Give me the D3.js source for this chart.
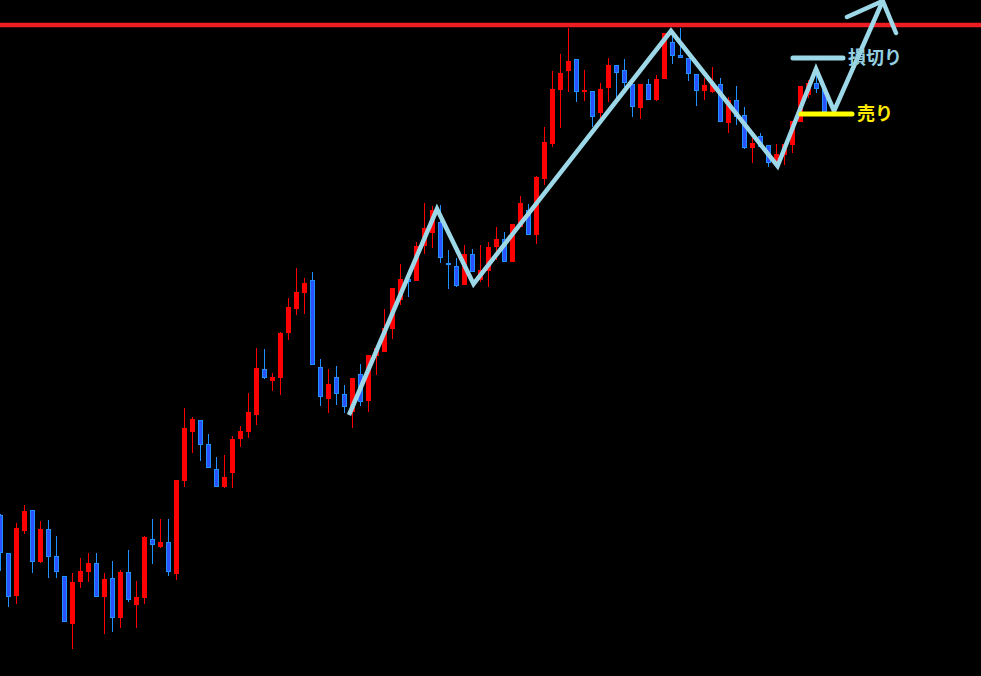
<!DOCTYPE html>
<html>
  <head>
    <meta charset="utf-8">
    <style>
      body { margin: 0; background: #000; overflow: hidden; }
      svg { display: block; }
    </style>
    <script type="text/javascript" src="https://d3js.org/d3.v7.min.js"></script>
  </head>
  <body>
    <svg></svg>
    <script>
    // candle prices (open, high, low, close), one entry per bar, oldest first
    var opens  = [161,123, 80,145,166,114,147,120,100, 52, 94,104,113, 79, 98, 58,104, 71, 78,137,
                  129,134,102,195,244,256,232,207,189,203,237,244,261,307,295,298,343,367,383,396,
                  309,277,299,282,264,302,275,320,324,347,376,397,395,430,443,454,413,410,391,422,
                  396,405,429,437,414,449,466,441,497,532,586,605,617,584,585,563,588,611,606,592,
                  568,592,576,597,634,621,618,602,585,584,592,553,576,561,528,540,531,514,521,531,
                  554,581,593,587];
    var highs  = [162,123,153,171,166,155,156,140,100,103,118,123,123,103,115,106,126, 95,140,157,
                  157,157,196,268,259,256,242,219,221,240,250,283,328,327,303,344,378,408,398,404,
                  317,307,310,291,298,312,321,330,367,388,412,397,434,473,470,471,426,418,431,427,
                  431,434,449,444,452,480,472,500,549,605,622,648,617,606,585,593,618,611,617,592,
                  592,597,601,643,646,648,618,602,598,609,598,579,590,569,538,543,531,532,532,555,
                  590,596,606,587];
    var lows   = [105, 69, 72,142,103,113, 98, 98, 54, 27, 88, 94, 79, 42, 44, 48, 74, 48, 72,112,
                  128,100, 96,189,223,215,208,189,188,188,229,238,251,297,285,281,336,361,362,311,
                  270,263,271,263,248,270,264,301,324,337,371,379,395,422,428,413,387,389,391,404,
                  394,389,416,414,414,449,441,432,491,529,548,584,574,575,549,558,574,576,589,559,
                  557,576,575,597,612,618,595,570,576,583,554,543,551,527,513,529,509,509,511,523,
                  554,578,583,564];
    var closes = [123, 79,148,165,114,147,119,104, 54, 94,105,113, 79, 97, 58,104, 76, 79,139,131,
                  134,104,196,248,257,231,208,189,199,237,245,264,308,298,299,343,369,384,393,311,
                  279,292,282,269,298,274,321,328,348,388,397,394,430,448,466,418,411,390,422,404,
                  406,429,437,414,452,473,441,499,534,587,603,615,584,586,559,587,611,603,593,569,
                  592,576,597,643,620,618,602,585,591,592,554,576,559,528,533,529,513,522,532,555,
                  590,593,587,564];

    // drawn annotations: zigzag (bar index, price), arrow wings, levels
    var zigIdx   = [43.56, 54.56, 59.13, 83.81, 97.13, 101.94, 104.19, 110.28];
    var zigPrice = [261, 467, 392, 645, 510, 607, 565, 675];
    var wingIdx   = [105.81, 110.28, 111.94];
    var wingPrice = [659, 675, 643];
    var resistance = 651;
    var stopLoss = {from: 99.06, to: 105.31, price: 618, label: "損切り"};
    var sellLine = {from: 100.06, to: 106.44, price: 562, label: "売り"};

    var width = 981;
    var height = 676;

    var svg = d3.select("svg")
        .attr("width", width)
        .attr("height", height)
        .style("background", "#000");

    var x = d3.scaleLinear().domain([0, 122]).range([0.5, 976.5]);
    var y = d3.scaleLinear().domain([0, 676]).range([676, 0]);

    var bars = opens.map(function(o, i) {
        return {i: i, o: o, h: highs[i], l: lows[i], c: closes[i], up: closes[i] >= o};
    });

    var red = "#ff0000";
    var blueEdge = "#1e90ff";
    var blueFill = "#2a52ff";

    // wicks
    svg.append("g").selectAll("line")
        .data(bars)
      .enter().append("line")
        .attr("x1", function(d) { return x(d.i); })
        .attr("x2", function(d) { return x(d.i); })
        .attr("y1", function(d) { return y(d.h); })
        .attr("y2", function(d) { return y(d.l); })
        .attr("stroke", function(d) { return d.up ? red : blueEdge; })
        .attr("stroke-width", 1);

    // red bodies
    svg.append("g").selectAll("rect")
        .data(bars.filter(function(d) { return d.up; }))
      .enter().append("rect")
        .attr("x", function(d) { return x(d.i) - 2.5; })
        .attr("width", 5)
        .attr("y", function(d) { return y(Math.max(d.o, d.c)); })
        .attr("height", function(d) { return Math.max(1, Math.abs(y(d.o) - y(d.c))); })
        .attr("fill", red);

    // blue bodies with a lighter rim
    svg.append("g").selectAll("rect")
        .data(bars.filter(function(d) { return !d.up; }))
      .enter().append("rect")
        .attr("x", function(d) { return x(d.i) - 2; })
        .attr("width", 4)
        .attr("y", function(d) { return y(d.o) + 0.5; })
        .attr("height", function(d) { return Math.max(0.5, y(d.c) - y(d.o) - 1); })
        .attr("fill", blueFill)
        .attr("stroke", blueEdge)
        .attr("stroke-width", 1);

    // resistance level
    svg.append("line")
        .attr("x1", 0)
        .attr("x2", width)
        .attr("y1", y(resistance))
        .attr("y2", y(resistance))
        .attr("stroke", "#ee1d24")
        .attr("stroke-width", 4.5);

    var line = d3.line()
        .x(function(d) { return x(d[0]); })
        .y(function(d) { return y(d[1]); });

    var zig = zigIdx.map(function(v, i) { return [v, zigPrice[i]]; });
    var wing = wingIdx.map(function(v, i) { return [v, wingPrice[i]]; });

    var lightBlue = "#9dd8e8";

    svg.append("path")
        .datum(zig)
        .attr("d", line)
        .attr("fill", "none")
        .attr("stroke", lightBlue)
        .attr("stroke-width", 4.5)
        .attr("stroke-linejoin", "miter")
        .attr("stroke-miterlimit", 3);

    svg.append("path")
        .datum(wing)
        .attr("d", line)
        .attr("fill", "none")
        .attr("stroke", lightBlue)
        .attr("stroke-width", 4.5)
        .attr("stroke-linecap", "round")
        .attr("stroke-linejoin", "miter");

    // stop-loss and sell levels
    var levels = [
        {lv: stopLoss, color: lightBlue, text: "#94cfe0"},
        {lv: sellLine, color: "#ffff00", text: "#ffea00"}
    ];

    levels.forEach(function(k) {
        svg.append("line")
            .attr("x1", x(k.lv.from))
            .attr("x2", x(k.lv.to))
            .attr("y1", y(k.lv.price))
            .attr("y2", y(k.lv.price))
            .attr("stroke", k.color)
            .attr("stroke-width", 5)
            .attr("stroke-linecap", "round");

        svg.append("text")
            .attr("x", x(k.lv.to) + 5)
            .attr("y", y(k.lv.price))
            .attr("dy", "0.35em")
            .attr("fill", k.text)
            .attr("font-family", "'Noto Sans CJK JP', 'Noto Sans', sans-serif")
            .attr("font-weight", "bold")
            .attr("font-size", "18px")
            .text(k.lv.label);
    });
    </script>
  </body>
</html>
